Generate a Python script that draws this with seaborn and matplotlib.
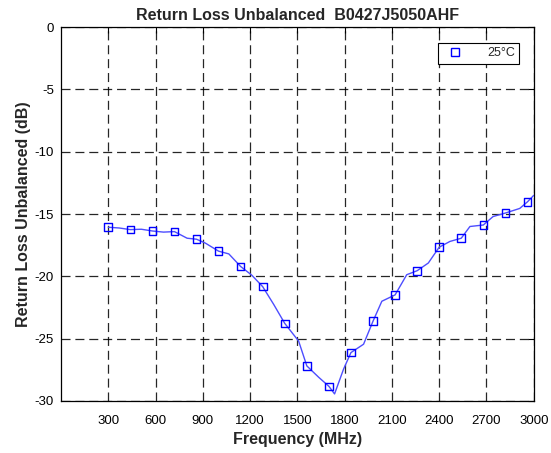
import matplotlib
matplotlib.use("Agg")
import matplotlib.pyplot as plt
import seaborn as sns
import pandas as pd
from matplotlib.lines import Line2D

# Marker (sampled) data
marker_freq = [300, 440, 580, 720, 860, 1000, 1140, 1280, 1420, 1560,
               1700, 1840, 1980, 2120, 2260, 2400, 2540, 2680, 2820, 2960]
marker_db = [-16.06, -16.25, -16.36, -16.41, -17.02, -17.98, -19.21, -20.83, -23.78, -27.19,
             -28.83, -26.12, -23.60, -21.49, -19.55, -17.66, -16.94, -15.88, -14.92, -14.02]

trace_freq = [300, 370, 440, 510, 580, 650, 720, 800, 860, 917, 1000, 1065, 1140, 1210,
              1280, 1350, 1420, 1508, 1560, 1635, 1700, 1736, 1793, 1840, 1920, 1980,
              2036, 2120, 2194, 2260, 2331, 2400, 2468, 2540, 2595, 2680, 2742, 2820,
              2911, 2960, 3000]
trace_db = [-16.06, -16.12, -16.25, -16.22, -16.36, -16.45, -16.41, -16.94, -17.02, -17.34,
            -17.98, -18.2, -19.21, -19.9, -20.83, -22.26, -23.78, -25.2, -27.19, -28.1,
            -28.83, -29.44, -27.45, -26.12, -25.45, -23.60, -22.0, -21.49, -19.87, -19.55,
            -18.93, -17.66, -17.2, -16.94, -16.0, -15.88, -15.2, -14.92, -14.55, -14.02, -13.5]

x_ticks = [300, 600, 900, 1200, 1500, 1800, 2100, 2400, 2700, 3000]
y_ticks = [0, -5, -10, -15, -20, -25, -30]
series_label = "25°C"

sns.set_style("white")
plt.rcParams["font.family"] = ["Liberation Sans", "DejaVu Sans"]
plt.rcParams["lines.scale_dashes"] = False

fig = plt.figure(figsize=(5.51, 4.53), dpi=100)
ax = fig.add_axes([0.1107, 0.115, 0.858, 0.825])

trace = pd.DataFrame({"f": trace_freq, "db": trace_db})
marks = pd.DataFrame({"f": marker_freq, "db": marker_db})

sns.lineplot(data=trace, x="f", y="db", ax=ax, color=(0.3, 0.3, 1.0), linewidth=1.0,
             zorder=3, estimator=None, sort=False)
sns.scatterplot(data=marks, x="f", y="db", ax=ax, marker="s", s=30,
                facecolor="none", edgecolor="#0000ff", linewidth=1.0, zorder=4)

ax.set_xlim(0, 3000)
ax.set_ylim(-30, 0)
ax.set_xticks(x_ticks)
ax.set_yticks(y_ticks)
ax.set_xticklabels([str(t) for t in x_ticks])
ax.set_yticklabels([str(t) for t in y_ticks])
ax.tick_params(direction="in", length=4, width=0.8, labelsize=9.5, colors="black",
               top=True, right=True)
ax.tick_params(axis="x", pad=10)
ax.tick_params(axis="y", pad=5)
ax.grid(True, color="black", linestyle=(0, (6.5, 3.5)), linewidth=0.9, alpha=0.85)
for sp in ax.spines.values():
    sp.set_color("black")
    sp.set_linewidth(0.9)

ax.set_title("Return Loss Unbalanced  B0427J5050AHF", fontsize=11.5, fontweight="bold", pad=5)
ax.set_xlabel("Frequency (MHz)", fontsize=11.5, fontweight="bold", labelpad=4)
ax.set_ylabel("Return Loss Unbalanced (dB)", fontsize=11.5, fontweight="bold", labelpad=3)

handle = Line2D([], [], linestyle="none", marker="s", markersize=5.5,
                markerfacecolor="none", markeredgecolor="#0000ff", markeredgewidth=1.0)
leg = ax.legend([handle], [series_label], loc="upper right", fontsize=9, frameon=True,
                fancybox=False, edgecolor="black", framealpha=1, borderpad=0.35,
                handletextpad=1.6, bbox_to_anchor=(0.983, 0.975))
leg.get_frame().set_linewidth(0.8)

fig.savefig("out.png", dpi=100, facecolor="white")
